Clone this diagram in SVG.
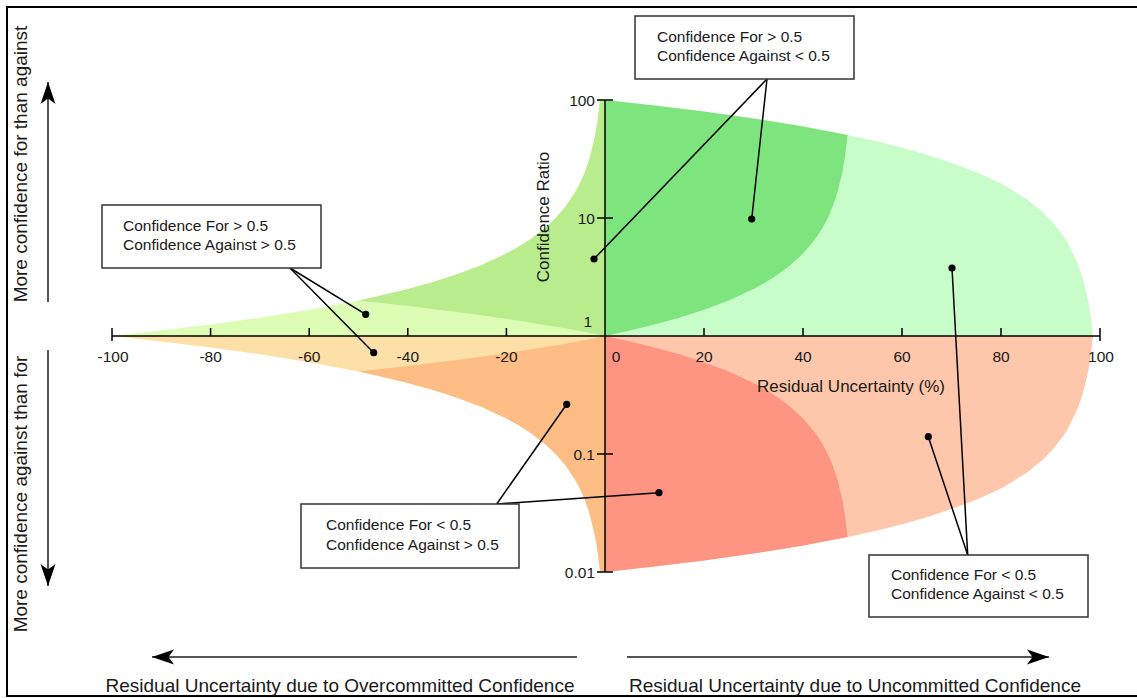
<svg xmlns="http://www.w3.org/2000/svg" width="1137" height="698" viewBox="0 0 1137 698">
<style>
  text { font-family: "Liberation Sans", Arial, sans-serif; fill: #1a1a1a; }
  .tick { font-size: 15.5px; }
  .axlab { font-size: 17px; }
  .side { font-size: 19px; }
  .box rect { fill: #ffffff; stroke: #333333; stroke-width: 1.5; }
  .box text { font-size: 15.5px; }
  .axis { stroke: #000000; stroke-width: 1.5; fill: none; }
  .ptr { stroke: #000000; stroke-width: 1.5; fill: none; marker-end: url(#dot); }
  .dir { stroke: #555555; stroke-width: 2; fill: none; marker-end: url(#head); }
</style>
<defs>
  <marker id="dot" viewBox="0 0 8 8" refX="4" refY="4" markerWidth="8" markerHeight="8" markerUnits="userSpaceOnUse">
    <circle cx="4" cy="4" r="3.6" fill="#000000"/>
  </marker>
  <marker id="head" viewBox="0 0 24 18" refX="22" refY="9" markerWidth="24" markerHeight="18" markerUnits="userSpaceOnUse" orient="auto">
    <path d="M22,9 L0,1.5 L5.5,9 L0,16.5 Z" fill="#000000"/>
  </marker>
</defs>
<rect x="0" y="0" width="1137" height="698" fill="#ffffff"/>
<path d="M1140,7 H7 V696 H1140" fill="none" stroke="#000000" stroke-width="2"/>

<g id="regions">
  <path fill="#c8fcc8" d="M605,336 L605,100 L654.5,105.5 L704,111.6 L753.5,118.5 L803,126.5 L852.5,136 L877.3,141.5 L902,147.7 L926.8,154.8 L951.5,162.9 L977,172.6 L1003,184.6 L1028,200.2 L1043,212.6 L1053,222.8 L1063,235.7 L1068,243.6 L1078,264.3 L1083,279 L1088,299.7 L1090.5,314.4 L1093,336 Z"/>
  <path fill="#fec6aa" d="M605,336 L605,572 L654.5,566.5 L704,560.4 L753.5,553.5 L803,545.5 L852.5,536 L877.3,530.5 L902,524.3 L926.8,517.2 L951.5,509.1 L977,499.4 L1003,487.4 L1028,471.8 L1043,459.4 L1053,449.2 L1063,436.3 L1068,428.4 L1078,407.7 L1083,393 L1088,372.3 L1090.5,357.6 L1093,336 Z"/>
  <path fill="#7ee57e" d="M605,336 L605,100 L654.5,105.5 L704,111.6 L753.5,118.5 L803,126.5 L847.6,135 L845.1,156.3 L842.6,171 L837.7,191.8 L832.7,206.6 L827.8,218 L822.8,227.3 L817.9,235.2 L812.9,242.1 L803,253.5 L790.6,265 L778.3,274.3 L765.9,282.2 L753.5,289 L728.8,300.5 L704,309.8 L679.3,317.7 L654.5,324.6 L629.8,330.6 Z"/>
  <path fill="#fe9482" d="M605,336 L605,572 L654.5,566.5 L704,560.4 L753.5,553.5 L803,545.5 L847.6,537 L845.1,515.7 L842.6,501 L837.7,480.2 L832.7,465.4 L827.8,454 L822.8,444.7 L817.9,436.8 L812.9,429.9 L803,418.5 L790.6,407 L778.3,397.7 L765.9,389.8 L753.5,383 L728.8,371.5 L704,362.2 L679.3,354.3 L654.5,347.4 L629.8,341.4 Z"/>
  <path fill="#ddfcb4" d="M605,336 L605,100 L600.1,100 L597.6,120.8 L595.1,135.5 L590.2,156.3 L585.3,171 L580.4,182.5 L575.4,191.8 L565.6,206.6 L555.7,218 L545.8,227.3 L531.1,238.8 L518.7,246.7 L506.4,253.5 L481.8,265 L457.1,274.3 L432.5,282.2 L407.8,289 L383.2,295.1 L358.5,300.5 L309.2,309.8 L259.9,317.7 L210.6,324.6 L161.3,330.6 L112,336 Z"/>
  <path fill="#b9ec8d" d="M358.5,300.5 L383.2,295.1 L407.8,289 L432.5,282.2 L457.1,274.3 L481.8,265 L506.4,253.5 L518.7,246.7 L531.1,238.8 L545.8,227.3 L555.7,218 L565.6,206.6 L575.4,191.8 L580.4,182.5 L585.3,171 L590.2,156.3 L595.1,135.5 L597.6,120.8 L600.1,100 L605,100 L605,336 L580.4,331.1 L555.7,326.7 L506.4,318.8 L457.1,311.9 L407.8,305.9 Z"/>
  <path fill="#fddfa8" d="M605,336 L605,572 L600.1,572 L597.6,551.2 L595.1,536.5 L590.2,515.7 L585.3,501 L580.4,489.5 L575.4,480.2 L565.6,465.4 L555.7,454 L545.8,444.7 L531.1,433.2 L518.7,425.3 L506.4,418.5 L481.8,407 L457.1,397.7 L432.5,389.8 L407.8,383 L383.2,376.9 L358.5,371.5 L309.2,362.2 L259.9,354.3 L210.6,347.4 L161.3,341.4 L112,336 Z"/>
  <path fill="#fdbd84" d="M358.5,371.5 L383.2,376.9 L407.8,383 L432.5,389.8 L457.1,397.7 L481.8,407 L506.4,418.5 L518.7,425.3 L531.1,433.2 L545.8,444.7 L555.7,454 L565.6,465.4 L575.4,480.2 L580.4,489.5 L585.3,501 L590.2,515.7 L595.1,536.5 L597.6,551.2 L600.1,572 L605,572 L605,336 L580.4,340.9 L555.7,345.3 L506.4,353.2 L457.1,360.1 L407.8,366.1 Z"/>
</g>

<g id="axes">
  <path class="axis" d="M112,336 H1100"/>
  <path class="axis" d="M605,100 V572"/>
  <path class="axis" d="M112,328 V341 M210.6,328 V336 M309.2,328 V336 M407.8,328 V336 M506.4,328 V336 M704,328 V336 M803,328 V336 M902,328 V336 M1001,328 V336 M1100,328 V341"/>
  <path class="axis" d="M597,100 H613 M597,218 H613 M597,454 H613 M597,572 H613"/>
  <g class="tick" text-anchor="middle">
    <text x="113" y="362">-100</text>
    <text x="210.6" y="362">-80</text>
    <text x="309.2" y="362">-60</text>
    <text x="407.8" y="362">-40</text>
    <text x="506.4" y="362">-20</text>
    <text x="616" y="362">0</text>
    <text x="704" y="362">20</text>
    <text x="803" y="362">40</text>
    <text x="902" y="362">60</text>
    <text x="1001" y="362">80</text>
    <text x="1101" y="362">100</text>
  </g>
  <g class="tick" text-anchor="end">
    <text x="595" y="106">100</text>
    <text x="595" y="224">10</text>
    <text x="592" y="327">1</text>
    <text x="595" y="460">0.1</text>
    <text x="595" y="578">0.01</text>
  </g>
  <text class="axlab" x="851" y="392" text-anchor="middle">Residual Uncertainty (%)</text>
  <text class="axlab" transform="translate(549,217) rotate(-90)" text-anchor="middle">Confidence Ratio</text>
</g>

<g id="connectors">
  <path class="ptr" d="M767,79 L594,259"/>
  <path class="ptr" d="M767,79 L751.7,219"/>
  <path class="ptr" d="M290,268 L365.7,314.3"/>
  <path class="ptr" d="M290,268 L373.7,352.7"/>
  <path class="ptr" d="M496.7,504 L566.7,404.3"/>
  <path class="ptr" d="M496.7,504 L659,492.7"/>
  <path class="ptr" d="M967.7,555 L928.3,436.7"/>
  <path class="ptr" d="M967.7,555 L952,268"/>
  <path class="dir" d="M48,302 V82"/>
  <path class="dir" d="M48,350 V586"/>
  <path class="dir" d="M577,657 H152"/>
  <path class="dir" d="M627,657 H1049"/>
</g>

<g id="box-for-gt-against-lt" class="box">
  <rect x="635" y="16" width="219" height="63"/>
  <text x="657" y="41.5">Confidence For &gt; 0.5</text>
  <text x="657" y="61">Confidence Against &lt; 0.5</text>
</g>
<g id="box-for-gt-against-gt" class="box">
  <rect x="102" y="205" width="219" height="63"/>
  <text x="123" y="231">Confidence For &gt; 0.5</text>
  <text x="123" y="250">Confidence Against &gt; 0.5</text>
</g>
<g id="box-for-lt-against-gt" class="box">
  <rect x="301" y="504" width="218" height="64"/>
  <text x="326" y="530">Confidence For &lt; 0.5</text>
  <text x="326" y="549.5">Confidence Against &gt; 0.5</text>
</g>
<g id="box-for-lt-against-lt" class="box">
  <rect x="869" y="555" width="219" height="62"/>
  <text x="891" y="580">Confidence For &lt; 0.5</text>
  <text x="891" y="599">Confidence Against &lt; 0.5</text>
</g>

<g id="side-labels">
  <text class="side" transform="translate(27,164) rotate(-90)" text-anchor="middle">More confidence for than against</text>
  <text class="side" transform="translate(27,494) rotate(-90)" text-anchor="middle">More confidence against than for</text>
  <text class="side" x="340" y="692" text-anchor="middle">Residual Uncertainty due to Overcommitted Confidence</text>
  <text class="side" x="855" y="692" text-anchor="middle">Residual Uncertainty due to Uncommitted Confidence</text>
</g>
</svg>
